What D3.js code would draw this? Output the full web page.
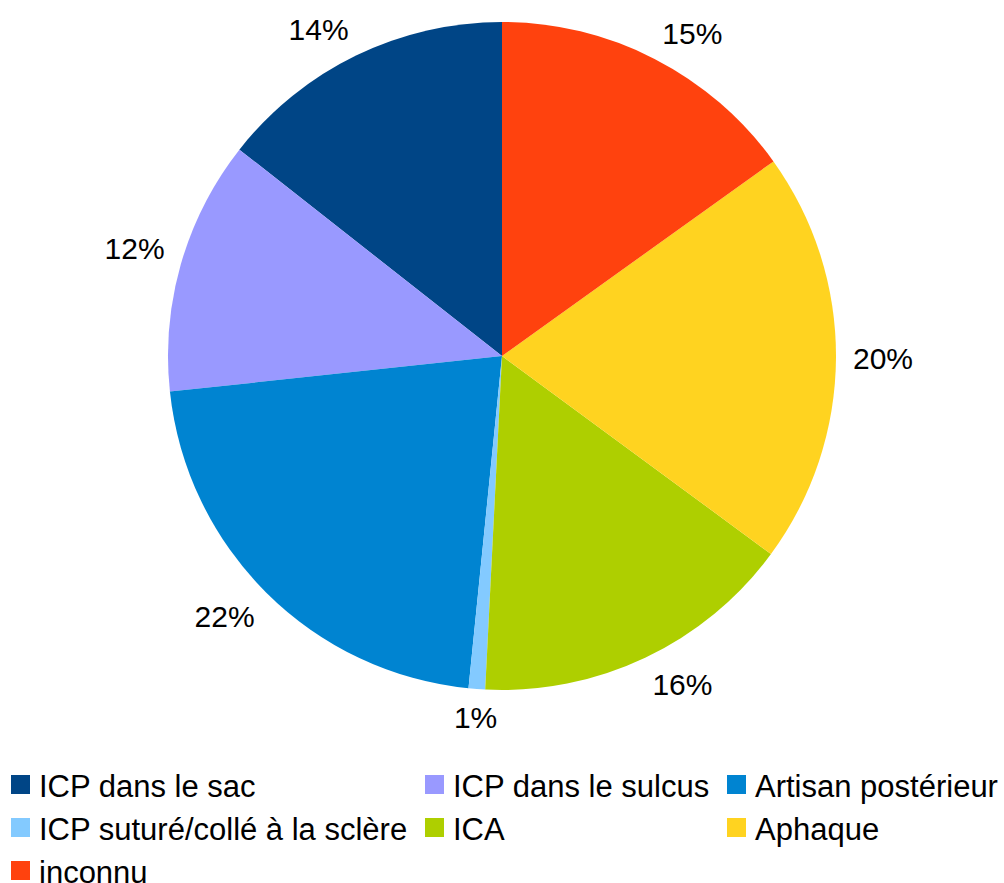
<!DOCTYPE html>
<html>
<head>
<meta charset="utf-8">
<script src="https://cdn.jsdelivr.net/npm/d3@7"></script>
<style>
  body { margin: 0; background: #fff; }
  svg { display: block; font-family: "Liberation Sans", Arial, sans-serif; }
</style>
</head>
<body>
<svg id="chart" width="1004" height="883"></svg>
<script>
// legend order (drawn counter-clockwise from 12 o'clock)
var categories = ["ICP dans le sac", "ICP dans le sulcus", "Artisan postérieur",
	"ICP suturé/collé à la sclère", "ICA", "Aphaque", "inconnu"];
var values = [14.4, 12.3, 21.7, 0.8, 15.7, 20.0, 15.1];
var colors = ["#004586", "#9999ff", "#0084d1", "#83caff", "#aecf00", "#ffd320", "#ff420e"];

var svg = d3.select("#chart");
var cx = 502, cy = 356, r = 334;

var total = d3.sum(values);
var pct = d3.format(".0%");

var pie = d3.pie()
	.sort(null)
	.startAngle(0)
	.endAngle(-2 * Math.PI);

var arc = d3.arc().innerRadius(0).outerRadius(r);

var slices = pie(values);

var g = svg.append("g").attr("transform", "translate(" + cx + "," + cy + ")");

g.selectAll("path")
	.data(slices)
	.enter()
	.append("path")
	.attr("d", arc)
	.attr("fill", function(d, i) { return colors[i]; });

// labels: anchor point just outside the rim, text aligned away from the pie
var lr = r + 17;
g.selectAll("text.lbl")
	.data(slices)
	.enter()
	.append("text")
	.attr("class", "lbl")
	.attr("x", function(d) { return lr * Math.sin((d.startAngle + d.endAngle) / 2); })
	.attr("y", function(d) { return -lr * Math.cos((d.startAngle + d.endAngle) / 2); })
	.attr("text-anchor", function(d) {
		var s = Math.sin((d.startAngle + d.endAngle) / 2);
		return Math.abs(s) < 0.15 ? "middle" : (s > 0 ? "start" : "end");
	})
	.attr("dy", function(d) {
		var c = -Math.cos((d.startAngle + d.endAngle) / 2);
		return Math.abs(c) < 0.15 ? "0.36em" : (c > 0 ? "0.72em" : "0em");
	})
	.style("font-size", "30px")
	.style("fill", "#000")
	.text(function(d) { return pct(d.value / total); });

// legend
var colX = [11, 425, 727];
var rowY = [775, 818, 861];
var leg = svg.selectAll("g.leg")
	.data(categories)
	.enter()
	.append("g")
	.attr("class", "leg")
	.attr("transform", function(d, i) {
		return "translate(" + colX[i % 3] + "," + rowY[Math.floor(i / 3)] + ")";
	});
leg.append("rect")
	.attr("width", 19)
	.attr("height", 19)
	.attr("fill", function(d, i) { return colors[i]; });
leg.append("text")
	.attr("x", 28)
	.attr("y", 22)
	.style("font-size", "31px")
	.style("fill", "#000")
	.text(function(d) { return d; });
</script>
</body>
</html>
